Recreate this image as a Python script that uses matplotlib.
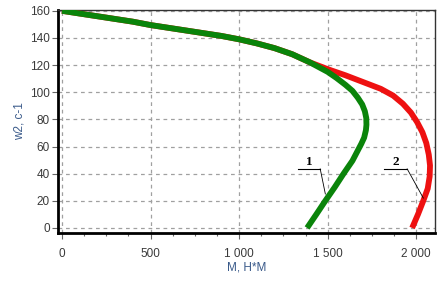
import matplotlib
matplotlib.use("Agg")
import matplotlib.pyplot as plt
from matplotlib.ticker import MultipleLocator

# Curve 1 (green): torque M vs speed w2
m1 = [0, 100, 200, 300, 400, 500, 600, 700, 800, 900, 1000, 1100, 1200, 1300, 1400, 1450, 1500, 1550,
      1600, 1640, 1670, 1695, 1710, 1718, 1719, 1716, 1706, 1690, 1670, 1640, 1590, 1540, 1487, 1436, 1384]
w1 = [160, 158, 156, 154, 152, 149.5, 147.5, 145.5, 143.5, 141.5, 139, 136, 132.5, 128, 122, 118.5, 115, 110.5,
      105.5, 101, 96, 91, 86, 81, 76, 72, 66.5, 62, 57, 49.5, 40, 30, 20, 10, 0]
# Curve 2 (red)
m2 = [0, 100, 200, 300, 400, 500, 600, 700, 800, 900, 1000, 1100, 1200, 1300, 1400, 1450, 1500, 1600, 1700,
      1800, 1870, 1925, 1970, 2005, 2035, 2057, 2071, 2078, 2076, 2065, 2040, 2010, 1977]
w2 = [160, 158, 156, 154, 152, 149.5, 147.5, 145.5, 143.5, 141.5, 139, 136, 132.5, 128, 122, 119.5, 117, 112.5, 107.5,
      102.5, 97.5, 91.5, 85, 78, 70.5, 62.5, 54, 46, 38, 29, 20, 10, 0]

xticks = [0, 500, 1000, 1500, 2000]
xticklabels = ["0", "500", "1 000", "1 500", "2 000"]
yticks = [0, 20, 40, 60, 80, 100, 120, 140, 160]
xlabel = "M, H*M"
ylabel = "w2, c-1"
labels = ["1", "2"]

plt.rcParams['font.family'] = ['Liberation Sans', 'DejaVu Sans']
fig = plt.figure(figsize=(4.4, 2.82), dpi=100)
ax = fig.add_axes([0.132, 0.174, 0.857, 0.791])

ax.plot(m2, w2, color="#ee1111", lw=4.2, solid_capstyle="butt", solid_joinstyle="round", zorder=3)
ax.plot(m1, w1, color="#0a840a", lw=4.2, solid_capstyle="butt", solid_joinstyle="round", zorder=4)

ax.set_xlim(-22, 2107)
ax.set_ylim(-3.7, 160.7)
ax.set_xticks(xticks)
ax.set_xticklabels(xticklabels)
ax.set_yticks(yticks)
ax.xaxis.set_minor_locator(MultipleLocator(125))
ax.grid(True, which="major", color="#a0a0a0", linestyle=(0, (3, 3)), lw=0.9)
ax.tick_params(axis="both", which="major", labelsize=8.5, labelcolor="#3a3a3a", length=4, width=0.8, color="#666666", pad=2)
ax.tick_params(axis="x", which="major", pad=7)
ax.tick_params(axis="x", which="minor", length=2.5, width=0.8, color="#666666")

for s in ["left", "bottom"]:
    ax.spines[s].set_linewidth(2.0)
    ax.spines[s].set_color("black")
for s in ["top", "right"]:
    ax.spines[s].set_linewidth(1.0)
    ax.spines[s].set_color("#333333")

ax.set_xlabel(xlabel, fontsize=8.5, color="#3a5a8a", labelpad=1)
ax.set_ylabel(ylabel, fontsize=8.5, color="#3a5a8a", labelpad=3)

# annotation labels with underline and leader
ann = [
    (labels[0], 1333, 1458, 43.5, 1487, 25),
    (labels[1], 1819, 1949, 43.5, 2040, 22),
]
for lab, x0, x1, yl, xe, ye in ann:
    ax.plot([x0, x1], [yl, yl], color="black", lw=0.8, zorder=5)
    ax.plot([x1, xe], [yl, ye], color="black", lw=0.6, zorder=5)
    ax.text((x0 + x1) / 2, yl + 0.8, lab, ha="center", va="bottom",
            fontsize=9.5, fontweight="bold", family=["Liberation Serif"], zorder=6)

fig.savefig("out.png", dpi=100)
